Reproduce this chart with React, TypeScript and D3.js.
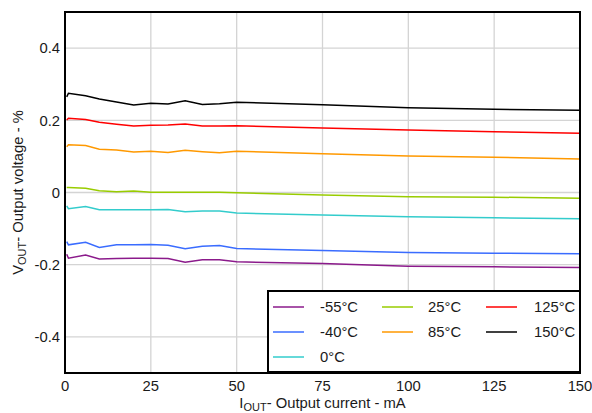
import React from "react";
import * as d3 from "d3";

const xValues = [0.5, 1, 6, 10, 15, 20, 25, 30, 35, 40, 45, 50, 75, 100, 125, 150];
const m55 = [-0.171, -0.182, -0.173, -0.184, -0.183, -0.182, -0.182, -0.183, -0.193, -0.186, -0.186, -0.192, -0.197, -0.204, -0.206, -0.208];
const m40 = [-0.136, -0.145, -0.138, -0.152, -0.145, -0.145, -0.144, -0.146, -0.156, -0.149, -0.147, -0.155, -0.161, -0.166, -0.168, -0.170];
const t0 = [-0.037, -0.045, -0.039, -0.048, -0.048, -0.048, -0.048, -0.047, -0.053, -0.051, -0.051, -0.057, -0.062, -0.067, -0.070, -0.073];
const t25 = [0.014, 0.014, 0.012, 0.005, 0.002, 0.004, 0.001, 0.001, 0.001, 0.001, 0.001, -0.001, -0.007, -0.012, -0.013, -0.016];
const t85 = [0.127, 0.132, 0.130, 0.120, 0.118, 0.112, 0.114, 0.111, 0.117, 0.113, 0.110, 0.114, 0.1075, 0.101, 0.0975, 0.093];
const t125 = [0.201, 0.2055, 0.202, 0.1945, 0.189, 0.184, 0.186, 0.187, 0.190, 0.184, 0.184, 0.185, 0.179, 0.173, 0.168, 0.164];
const t150 = [0.265, 0.275, 0.268, 0.259, 0.251, 0.2425, 0.247, 0.245, 0.254, 0.244, 0.246, 0.250, 0.243, 0.235, 0.2305, 0.228];

const seriesNames = ["-55°C", "-40°C", "0°C", "25°C", "85°C", "125°C", "150°C"];
const seriesValues = [m55, m40, t0, t25, t85, t125, t150];
const seriesColors = ["#8b1a8b", "#3a6cff", "#33cccc", "#99cc00", "#ff9900", "#ff0000", "#000000"];

const xTicks = [0, 25, 50, 75, 100, 125, 150];
const yTicks = [-0.4, -0.2, 0, 0.2, 0.4];
const yTickLabels = ["-0.4", "-0.2", "0", "0.2", "0.4"];

const W = 592;
const H = 413;
const left = 65;
const right = 580;
const top = 12;
const bottom = 373;
const FONT = "Liberation Sans, Arial, sans-serif";
const FS = 14.8;
const SUB = 11;
const TXT = "#1a1a1a";

export default function App() {
  const x = d3.scaleLinear().domain([0, 150]).range([left, right]);
  const y = d3.scaleLinear().domain([-0.5, 0.5]).range([bottom, top]);
  const line = d3
    .line<number>()
    .x((_, i) => x(xValues[i]))
    .y((d) => y(d));

  const lg = { x0: 268, y0: 291, x1: 580, y1: 372 };
  const colX = [273, 382, 486];
  const textX = [320, 428, 534];
  const rowY = [307, 332, 357];
  const legendOrder = [
    [0, 0, 0], [1, 0, 1], [2, 0, 2],
    [3, 1, 0], [4, 1, 1],
    [5, 2, 0], [6, 2, 1],
  ];

  return (
    <svg
      width={W}
      height={H}
      style={{ position: "fixed", left: 0, top: 0, background: "#fff" }}
      fontFamily={FONT}
    >
      <rect x={0} y={0} width={W} height={H} fill="#fff" />
      {xTicks.slice(1, -1).map((t) => (
        <line key={"gx" + t} x1={x(t)} x2={x(t)} y1={top} y2={bottom} stroke="#d4d4d4" strokeWidth={1.3} />
      ))}
      {yTicks.map((t) => (
        <line key={"gy" + t} x1={left} x2={right} y1={y(t)} y2={y(t)} stroke="#d4d4d4" strokeWidth={1.3} />
      ))}
      {seriesValues.map((vals, i) => (
        <path key={seriesNames[i]} d={line(vals) || ""} fill="none" stroke={seriesColors[i]} strokeWidth={1.5} />
      ))}
      <rect x={left} y={top} width={right - left} height={bottom - top} fill="none" stroke="#000" strokeWidth={2} />
      {yTicks.map((t, i) => (
        <text key={"ty" + t} x={60} y={y(t) + 5.3} textAnchor="end" fontSize={FS} fill={TXT}>
          {yTickLabels[i]}
        </text>
      ))}
      {xTicks.map((t) => (
        <text key={"tx" + t} x={x(t)} y={391} textAnchor="middle" fontSize={FS} fill={TXT}>
          {String(t)}
        </text>
      ))}
      <text x={(left + right) / 2} y={407.5} textAnchor="middle" fontSize={FS} fill={TXT}>
        I<tspan fontSize={SUB} dy={3}>OUT</tspan>
        <tspan dy={-3}>- Output current - mA</tspan>
      </text>
      <text
        transform={`translate(23, ${(top + bottom) / 2}) rotate(-90)`}
        textAnchor="middle"
        fontSize={FS}
        fill={TXT}
      >
        V<tspan fontSize={SUB} dy={3}>OUT</tspan>
        <tspan dy={-3}>- Output voltage - %</tspan>
      </text>
      <rect x={lg.x0} y={lg.y0} width={lg.x1 - lg.x0} height={lg.y1 - lg.y0} fill="#fff" stroke="#000" strokeWidth={2} />
      {legendOrder.map(([si, c, r]) => (
        <g key={"lg" + si}>
          <line x1={colX[c]} x2={colX[c] + 31} y1={rowY[r]} y2={rowY[r]} stroke={seriesColors[si]} strokeWidth={1.5} />
          <text x={textX[c]} y={rowY[r] + 5.2} fontSize={FS} fill={TXT}>
            {seriesNames[si]}
          </text>
        </g>
      ))}
    </svg>
  );
}
